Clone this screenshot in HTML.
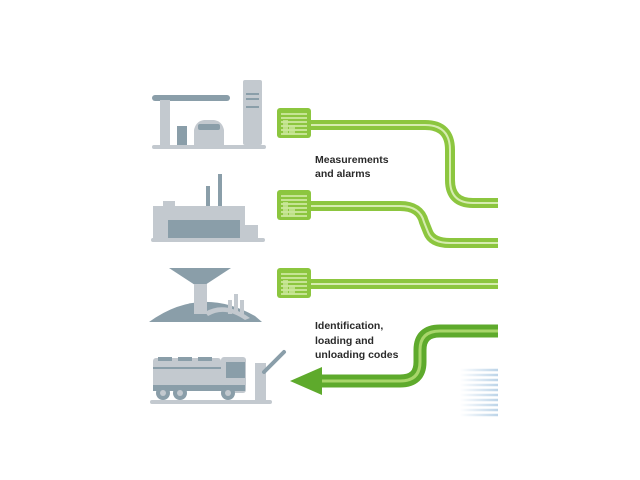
<!DOCTYPE html>
<html><head><meta charset="utf-8"><style>
html,body{margin:0;padding:0;background:#fff;}
svg{display:block;}
text{font-family:"Liberation Sans",sans-serif;font-weight:bold;font-size:10.5px;fill:#2a2a2a;}
</style></head><body>
<svg width="640" height="480" viewBox="0 0 640 480">
<defs>
<linearGradient id="bf" gradientUnits="userSpaceOnUse" x1="460" y1="0" x2="498" y2="0"><stop offset="0" stop-color="#fff"/><stop offset="1" stop-color="#bcd4e8"/></linearGradient>
<g id="box">
<rect x="0" y="0" width="34" height="30" rx="3" fill="#8cc63f"/>
<g stroke="#e8f5c8" stroke-width="1.2">
<line x1="4" y1="6" x2="30" y2="6"/><line x1="4" y1="10" x2="30" y2="10"/><line x1="4" y1="14" x2="30" y2="14"/>
<line x1="4" y1="18" x2="30" y2="18"/><line x1="4" y1="22" x2="30" y2="22"/><line x1="4" y1="26" x2="30" y2="26"/>
</g>
<rect x="6" y="12" width="5" height="14" fill="#c9e69a" opacity="0.8"/>
<rect x="12" y="17" width="6" height="9" fill="#c9e69a" opacity="0.8"/>
</g>
</defs>

<!-- gas station -->
<rect x="152" y="95" width="78" height="6" rx="3" fill="#8a9ea9"/>
<rect x="160" y="100" width="10" height="45" fill="#c3c9cf"/>
<rect x="177" y="126" width="10" height="19" fill="#8a9ea9"/>
<path d="M194 145 V130 Q196 121 204 120 H214 Q222 121 224 130 V145 Z" fill="#c3c9cf"/>
<rect x="198" y="124" width="22" height="6" rx="2" fill="#8a9ea9"/>
<rect x="243" y="80" width="19" height="65" rx="2" fill="#c3c9cf"/>
<rect x="246" y="93" width="13" height="2" fill="#8a9ea9"/><rect x="246" y="98" width="13" height="2" fill="#8a9ea9"/><rect x="246" y="106" width="13" height="2" fill="#8a9ea9"/>
<rect x="152" y="145" width="114" height="4" rx="2" fill="#c3c9cf"/>

<!-- factory -->
<rect x="206" y="186" width="4" height="24" fill="#8a9ea9"/>
<rect x="218" y="174" width="4" height="36" fill="#8a9ea9"/>
<rect x="163" y="201" width="12" height="6" fill="#c3c9cf"/>
<rect x="153" y="206" width="92" height="32" fill="#c3c9cf"/>
<rect x="168" y="220" width="72" height="18" fill="#8a9ea9"/>
<rect x="240" y="225" width="18" height="13" fill="#c3c9cf"/>
<rect x="151" y="238" width="114" height="4" rx="2" fill="#c3c9cf"/>

<!-- hopper -->
<path d="M149 322 Q200 285 255 316 L262 322 Z" fill="#8a9ea9"/>
<rect x="228" y="300" width="4" height="14" fill="#c3c9cf"/><rect x="234" y="294" width="4" height="20" fill="#c3c9cf"/><rect x="240" y="300" width="4" height="14" fill="#c3c9cf"/>
<path d="M205 312 Q225 300 250 318 L245 320 Q225 306 208 316 Z" fill="#c3c9cf"/>
<polygon points="169,268 231,268 205,285 195,285" fill="#8a9ea9"/>
<rect x="194" y="284" width="13" height="30" fill="#c3c9cf"/>

<!-- truck -->
<rect x="153" y="358" width="68" height="32" rx="3" fill="#c3c9cf"/>
<rect x="158" y="357" width="14" height="4" fill="#8a9ea9"/><rect x="178" y="357" width="14" height="4" fill="#8a9ea9"/><rect x="198" y="357" width="14" height="4" fill="#8a9ea9"/>
<rect x="153" y="367" width="68" height="2" fill="#8a9ea9"/>
<rect x="221" y="357" width="25" height="36" rx="3" fill="#c3c9cf"/>
<rect x="226" y="362" width="19" height="16" fill="#8a9ea9"/>
<rect x="153" y="385" width="92" height="6" fill="#8a9ea9"/>
<circle cx="163" cy="393" r="7" fill="#8a9ea9"/><circle cx="163" cy="393" r="3" fill="#c3c9cf"/>
<circle cx="180" cy="393" r="7" fill="#8a9ea9"/><circle cx="180" cy="393" r="3" fill="#c3c9cf"/>
<circle cx="228" cy="393" r="7" fill="#8a9ea9"/><circle cx="228" cy="393" r="3" fill="#c3c9cf"/>
<rect x="255" y="363" width="11" height="37" fill="#c3c9cf"/>
<line x1="264" y1="372" x2="284" y2="352" stroke="#8a9ea9" stroke-width="4" stroke-linecap="round"/>
<rect x="150" y="400" width="122" height="4" rx="2" fill="#c3c9cf"/>

<!-- blue fade -->
<g stroke="url(#bf)" stroke-width="2.5">
<line x1="460" y1="370" x2="498" y2="370"/><line x1="460" y1="375" x2="498" y2="375"/><line x1="460" y1="380" x2="498" y2="380"/>
<line x1="460" y1="385" x2="498" y2="385"/><line x1="460" y1="390" x2="498" y2="390"/><line x1="460" y1="395" x2="498" y2="395"/>
<line x1="460" y1="400" x2="498" y2="400"/><line x1="460" y1="405" x2="498" y2="405"/><line x1="460" y1="410" x2="498" y2="410"/>
<line x1="460" y1="415" x2="498" y2="415"/>
</g>

<!-- pipes -->
<g fill="none" stroke-linejoin="round">
<path d="M310 125 H425 Q450 125 450 150 V180 Q450 203 473 203 H498" stroke="#8cc63f" stroke-width="10"/>
<path d="M310 125 H425 Q450 125 450 150 V180 Q450 203 473 203 H498" stroke="#d6ecb0" stroke-width="2"/>
<path d="M310 206 H400 Q420 206 424 222 L428 232 Q432 243 450 243 H498" stroke="#8cc63f" stroke-width="10"/>
<path d="M310 206 H400 Q420 206 424 222 L428 232 Q432 243 450 243 H498" stroke="#d6ecb0" stroke-width="2"/>
<path d="M310 284 H498" stroke="#8cc63f" stroke-width="10"/>
<path d="M310 284 H498" stroke="#d6ecb0" stroke-width="2"/>
<path d="M498 331 H440 Q420 331 420 350 V362 Q420 381 400 381 H318" stroke="#5eaa2c" stroke-width="13"/>
<path d="M498 331 H440 Q420 331 420 350 V362 Q420 381 400 381 H318" stroke="#a8d66a" stroke-width="3"/>
</g>
<polygon points="290,381 322,367 322,395" fill="#5eaa2c"/>

<use href="#box" x="277" y="108"/>
<use href="#box" x="277" y="190"/>
<use href="#box" x="277" y="268"/>

<text x="315" y="163">Measurements</text>
<text x="315" y="177">and alarms</text>
<text x="315" y="329">Identification,</text>
<text x="315" y="344">loading and</text>
<text x="315" y="358">unloading codes</text>
</svg>
</body></html>
